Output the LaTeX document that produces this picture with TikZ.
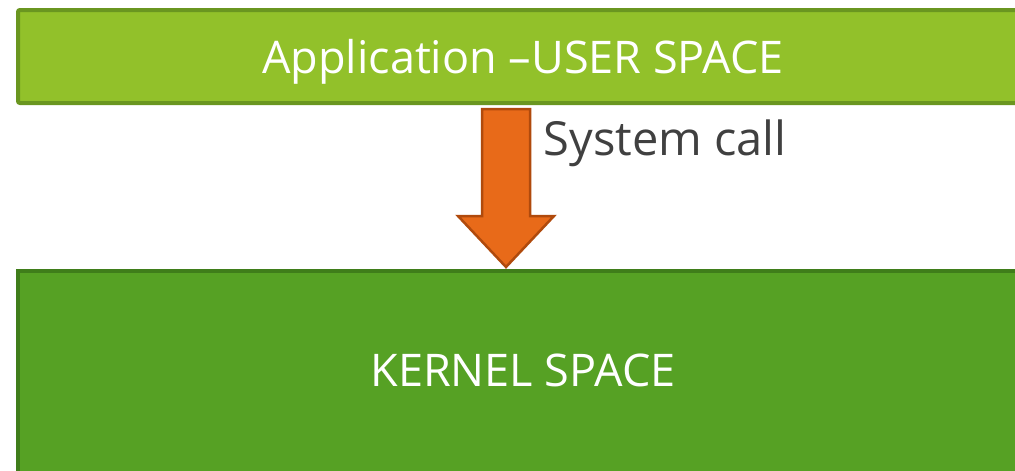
\documentclass[tikz,border=0pt]{standalone}
\usepackage{fontspec}
\setmainfont{Open Sans}
\usepackage{tikz}
\usetikzlibrary{positioning,calc}
\definecolor{userfill}{HTML}{92C12A}
\definecolor{userline}{HTML}{6A9620}
\definecolor{kernfill}{HTML}{56A124}
\definecolor{kernline}{HTML}{3F7D1A}
\definecolor{callfill}{HTML}{E86A19}
\definecolor{callline}{HTML}{B04A0C}
\definecolor{calltext}{HTML}{404040}
\tikzset{
  spacebox/.style={
    shape = rectangle,
    line width = 4pt,
    anchor = north west,
    inner sep = 0pt,
    text = white,
    font = \fontsize{45}{50}\selectfont
  },
  userbox/.style={
    spacebox,
    draw = userline,
    fill = userfill,
    rounded corners = 2pt,
    minimum width = 1010pt,
    minimum height = 93pt,
    text depth = -6pt
  },
  kernbox/.style={
    spacebox,
    draw = kernline,
    fill = kernfill,
    minimum width = 1010pt,
    minimum height = 206pt,
    text depth = 8pt
  },
  callarrow/.style={
    draw = callline,
    fill = callfill,
    line width = 2.5pt,
    line join = miter
  }
}

\begin{document}
\begin{tikzpicture}[x=1pt,y=-1pt]
        \useasboundingbox (0,0) rectangle (1015,471);
        \clip (0,0) rectangle (1015,471);
        \node[userbox] (user) at (16,8) {Application --USER SPACE};
        \node[kernbox] (kern) at (16,269) {KERNEL SPACE};
        % block arrow from user space down to kernel
        \coordinate (top) at ($(user.south)+(-17,4)$);
        \coordinate (tip) at ($(kern.north)+(-17,-2)$);
        \coordinate (neck) at ($(tip)+(0,-51)$);
        \draw[callarrow] ($(top)+(-24,0)$) -- ($(neck)+(-24,0)$)
            -- ($(neck)+(-48,0)$) -- (tip) -- ($(neck)+(48,0)$)
            -- ($(neck)+(24,0)$) -- ($(top)+(24,0)$) -- cycle;
        \node[text=calltext, anchor=west, font=\fontsize{47}{52}\selectfont]
            (call) at (540,143) {System call};
\end{tikzpicture}
\end{document}
